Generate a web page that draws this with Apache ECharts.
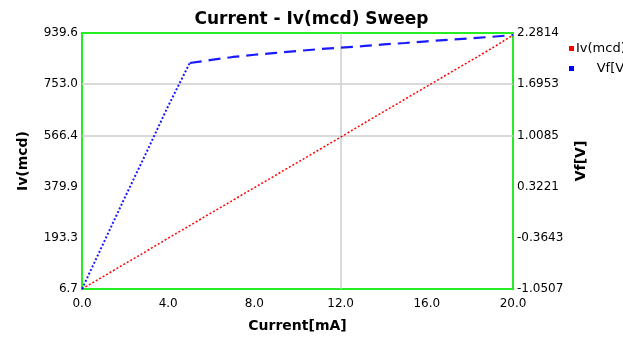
<!DOCTYPE html>
<html lang="en">
<head>
  <meta charset="UTF-8">
  <title>Current - Iv(mcd) Sweep</title>
  <script src="https://cdn.jsdelivr.net/npm/echarts@6/dist/echarts.min.js"></script>
  <style>
    html, body { margin: 0; padding: 0; background: #fff; }
    #myChart { width: 623px; height: 338px; }
  </style>
</head>
<body>
  <div id="myChart"></div>
<script>
// sweep data
let current = [0, 1, 2, 3, 4, 5, 6, 7, 8, 9, 10, 11, 12, 13, 14, 15, 16, 17, 18, 19, 20];
let iv = [6.7, 53, 99, 145, 192, 238, 284, 330, 376, 422, 468, 514, 560, 607, 653, 699, 745, 791, 837, 883, 932];
let vf = [-1.0507, -0.434, 0.183, 0.786, 1.403, 1.979, 2.02, 2.06, 2.09, 2.115, 2.14, 2.165, 2.185, 2.205, 2.228, 2.247, 2.27, 2.29, 2.31, 2.33, 2.354];

// tick labels
let xTicks = ['0.0', '4.0', '8.0', '12.0', '16.0', '20.0'];
let ivTicks = ['6.7', '193.3', '379.9', '566.4', '753.0', '939.6'];
let vfTicks = ['-1.0507', '-0.3643', '0.3221', '1.0085', '1.6953', '2.2814'];

// grey grid lines that are drawn
let gridIv = [566.4, 753.0];
let gridCurrent = [12];

let ivMin = 6.7, ivMax = 939.6;
let vfMin = -1.0507, vfMax = 2.3813;

function pairs(xs, ys) {
  return xs.map((x, i) => [x, ys[i]]);
}
function pick(labels, min, max) {
  let step = (max - min) / (labels.length - 1);
  return v => labels[Math.round((v - min) / step)] || '';
}

let myChart = echarts.init(document.getElementById('myChart'));
let labelFont = { color: '#000', fontFamily: 'DejaVu Sans', fontSize: 12 };
let nameFont = { color: '#000', fontFamily: 'DejaVu Sans', fontSize: 14, fontWeight: 'bold' };

let gridMarks = [];
gridIv.forEach(v => gridMarks.push({ yAxis: v }));
gridCurrent.forEach(v => gridMarks.push({ xAxis: v }));

let option = {
  animation: false,
  backgroundColor: '#fff',
  title: {
    text: 'Current - Iv(mcd) Sweep',
    left: 'center',
    top: 6,
    textStyle: { color: '#000', fontFamily: 'DejaVu Sans', fontSize: 17, fontWeight: 'bold' }
  },
  legend: {
    orient: 'vertical',
    left: 564,
    top: 37,
    icon: 'rect',
    itemWidth: 5,
    itemHeight: 5,
    itemGap: 7,
    textStyle: { color: '#000', fontFamily: 'DejaVu Sans', fontSize: 13, padding: [0, 0, 0, -3] },
    formatter: name => name === 'Vf[V]' ? '     ' + name : name,
    data: ['Iv(mcd)', 'Vf[V]']
  },
  grid: {
    left: 82, right: 110, top: 33, bottom: 49,
    show: true,
    borderColor: '#22ee22',
    borderWidth: 2,
    backgroundColor: '#fff'
  },
  xAxis: {
    type: 'value',
    min: 0, max: 20, interval: 4,
    name: 'Current[mA]',
    nameLocation: 'middle',
    nameGap: 30,
    nameTextStyle: nameFont,
    axisLine: { show: false },
    axisTick: { show: false },
    splitLine: { show: false },
    axisLabel: Object.assign({ margin: 9, formatter: pick(xTicks, 0, 20) }, labelFont)
  },
  yAxis: [
    {
      type: 'value',
      min: ivMin, max: ivMax, interval: (ivMax - ivMin) / 5,
      name: 'Iv(mcd)',
      nameLocation: 'middle',
      nameGap: 52,
      nameTextStyle: nameFont,
      axisLine: { show: false },
      axisTick: { show: false },
      splitLine: { show: false },
      axisLabel: Object.assign({ margin: 4, formatter: pick(ivTicks, ivMin, ivMax) }, labelFont)
    },
    {
      type: 'value',
      min: vfMin, max: vfMax, interval: (vfMax - vfMin) / 5,
      name: 'Vf[V]',
      nameLocation: 'middle',
      nameGap: 58,
      nameTextStyle: nameFont,
      axisLine: { show: false },
      axisTick: { show: false },
      splitLine: { show: false },
      axisLabel: Object.assign({ margin: 4, formatter: pick(vfTicks, vfMin, vfMax) }, labelFont)
    }
  ],
  series: [
    {
      name: 'Iv(mcd)',
      type: 'line',
      yAxisIndex: 0,
      showSymbol: false,
      color: '#ff0000',
      lineStyle: { color: '#ff0000', width: 1.5, type: [2, 2] },
      data: pairs(current, iv),
      z: 3,
      markLine: {
        silent: true,
        z: 1,
        symbol: 'none',
        label: { show: false },
        lineStyle: { color: '#cccccc', width: 1.5, type: 'solid' },
        data: gridMarks
      }
    },
    {
      name: 'Vf[V]',
      type: 'line',
      yAxisIndex: 1,
      showSymbol: false,
      color: '#0000ff',
      lineStyle: { color: '#1a1aff', width: 2.2, type: [12, 7] },
      data: pairs(current.slice(5), vf.slice(5)),
      z: 3
    },
    {
      name: 'Vf low',
      type: 'line',
      yAxisIndex: 1,
      showSymbol: false,
      color: '#0000ff',
      lineStyle: { color: '#1a1aff', width: 2, type: [2, 2] },
      data: pairs(current.slice(0, 6), vf.slice(0, 6)),
      z: 3
    }
  ]
};
myChart.setOption(option);
</script>
</body>
</html>
